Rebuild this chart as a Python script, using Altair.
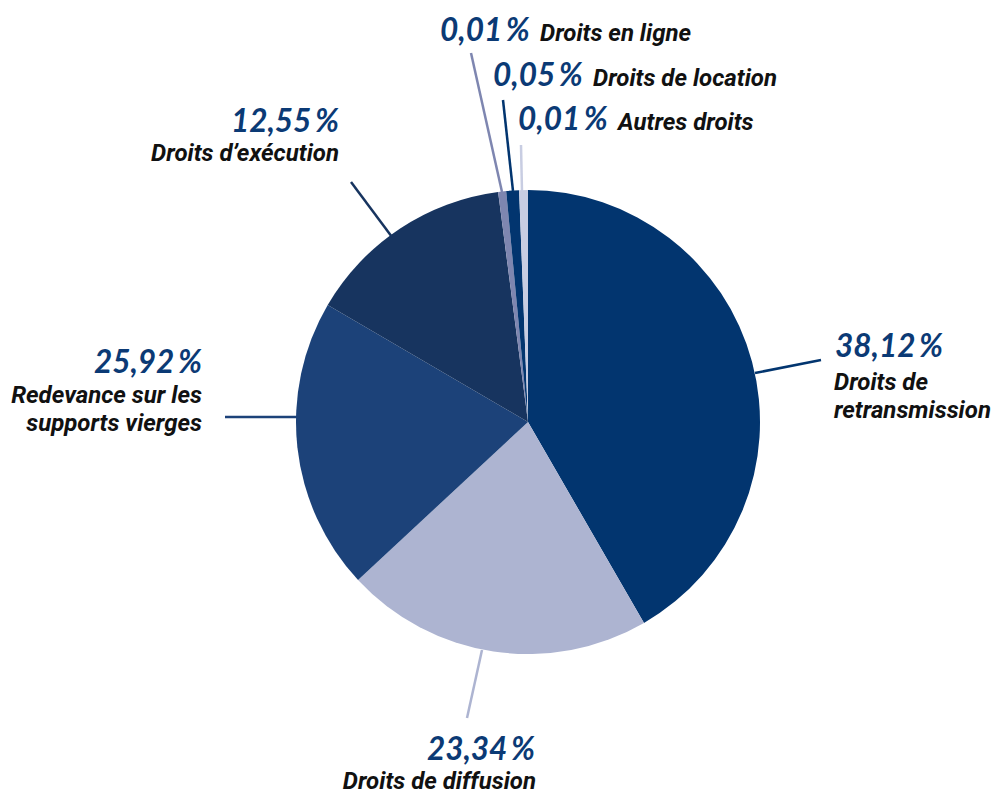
import altair as alt
import pandas as pd

# ---- data ----
categories = [
    "Droits de retransmission",
    "Droits de diffusion",
    "Redevance sur les supports vierges",
    "Droits d’exécution",
    "Droits en ligne",
    "Droits de location",
    "Autres droits",
]
label_lines = [
    "Droits de\nretransmission",
    "Droits de diffusion",
    "Redevance sur les\nsupports vierges",
    "Droits d’exécution",
    "Droits en ligne",
    "Droits de location",
    "Autres droits",
]
percent_values = [38.12, 23.34, 25.92, 12.55, 0.01, 0.05, 0.01]
# angular share of each slice as drawn in the picture (degrees)
slice_shares = [150.0, 77.1, 73.2, 52.3, 2.0, 3.2, 2.2]
slice_colors = ["#02356f", "#adb4d1", "#1c4279", "#17345f", "#7e86b0", "#02356f", "#c8cde2"]

# ---- layout (annotation placement) ----
CX, CY, R = 528, 422, 232
# leader line: (x_from, y_from, x_to, y_to)
leaders = [
    (755, 373, 821, 360),
    (482, 650, 467, 718),
    (297, 417, 225, 417),
    (392, 237, 351, 182),
    (502, 192, 471, 53),
    (513, 191, 503, 100),
    (522, 192, 521, 145),
]
# pct anchor (x, baseline, align), name anchor (x, baseline, align)
label_pos = [
    ((835, 357, "left"), (834, 390, "left")),
    ((535, 760, "right"), (536, 789, "right")),
    ((202, 373, "right"), (202, 403, "right")),
    ((339, 132, "right"), (339, 161, "right")),
    ((440, 41, "left"), (540, 41, "left")),
    ((493, 86, "left"), (593, 86, "left")),
    ((518, 130, "left"), (618, 130, "left")),
]


def fmt_pct(v):
    return f"{v:.2f}".replace(".", ",") + "\u2009%"


pie_df = pd.DataFrame({
    "cat": categories,
    "share": slice_shares,
    "idx": list(range(len(categories))),
})

lead_df = pd.DataFrame({
    "cat": categories,
    "x": [l[0] for l in leaders],
    "y": [l[1] for l in leaders],
    "x2": [l[2] for l in leaders],
    "y2": [l[3] for l in leaders],
})

pct_df = pd.DataFrame({
    "text": [fmt_pct(v) for v in percent_values],
    "x": [p[0][0] for p in label_pos],
    "y": [p[0][1] for p in label_pos],
    "align": [p[0][2] for p in label_pos],
})
name_df = pd.DataFrame({
    "text": label_lines,
    "x": [p[1][0] for p in label_pos],
    "y": [p[1][1] for p in label_pos],
    "align": [p[1][2] for p in label_pos],
})

color_scale = alt.Scale(domain=categories, range=slice_colors)

pie = alt.Chart(pie_df).mark_arc(radius=R, strokeWidth=0).encode(
    theta=alt.Theta("share:Q", stack=True),
    color=alt.Color("cat:N", scale=color_scale, legend=None),
    order=alt.Order("idx:Q"),
    x=alt.value(CX),
    y=alt.value(CY),
)

lines = alt.Chart(lead_df).mark_rule(strokeWidth=2.5).encode(
    x=alt.X("x:Q", scale=None, axis=None),
    y=alt.Y("y:Q", scale=None, axis=None),
    x2="x2:Q",
    y2="y2:Q",
    color=alt.Color("cat:N", scale=color_scale, legend=None),
)


def text_layer(df, font, size, weight, color, lh):
    layers = []
    for al in ["left", "right"]:
        sub = df[df["align"] == al]
        layers.append(
            alt.Chart(sub).mark_text(
                font=font, fontSize=size, fontWeight=weight, fontStyle="italic",
                align=al, baseline="alphabetic", color=color,
                lineBreak="\n", lineHeight=lh,
            ).encode(
                x=alt.X("x:Q", scale=None, axis=None),
                y=alt.Y("y:Q", scale=None, axis=None),
                text="text:N",
            )
        )
    return layers


chart = alt.layer(
    pie, lines,
    *text_layer(pct_df, "Lato", 31.5, "bold", "#0b3a75", 34),
    *text_layer(name_df, "Roboto", 24, "bold", "#111111", 28),
).properties(
    width=998, height=796,
    autosize=alt.AutoSizeParams(type="none"),
    padding=0,
    background="white",
).configure_view(stroke=None)

chart.save("out.html", embed_options={"renderer": "svg", "actions": False})
